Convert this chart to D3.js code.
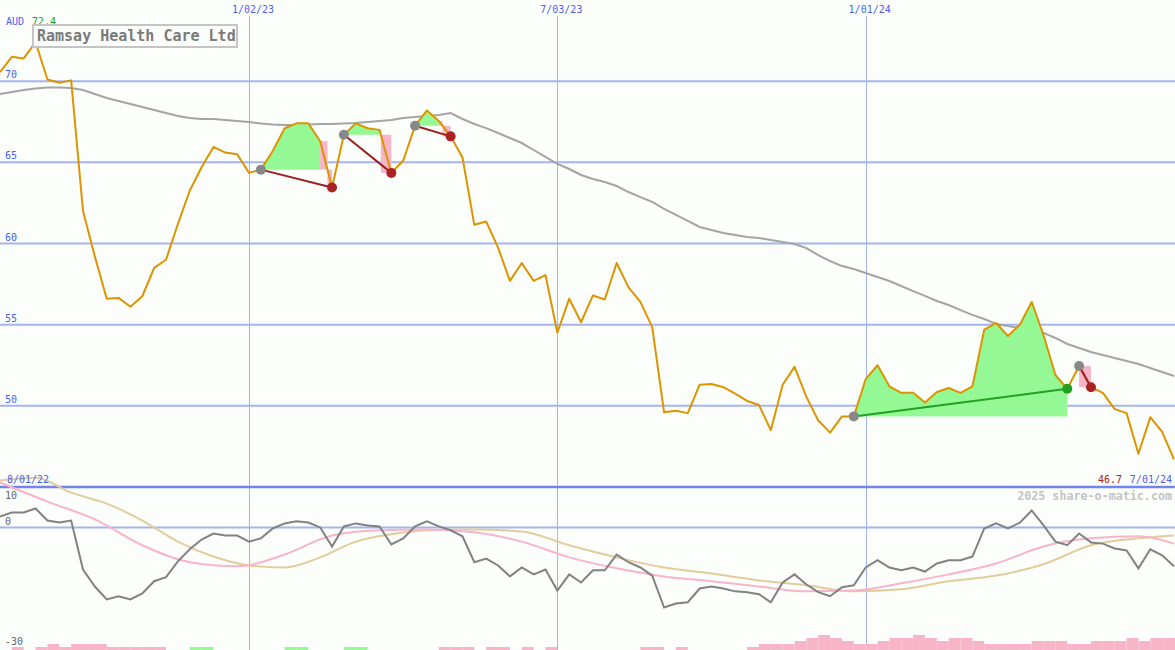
<!DOCTYPE html>
<html><head><meta charset="utf-8">
<script src="https://cdn.jsdelivr.net/npm/d3@7"></script>
<style>
html,body{margin:0;padding:0;background:#fbfefb;}
svg{display:block;}
text{font-family:"DejaVu Sans Mono",monospace;}
</style></head>
<body>
<svg id="chart" width="1175" height="650"></svg>
<script>
// ---------- DATA ----------
const title = "Ramsay Health Care Ltd";
const currency = "AUD";
const startLabel = "8/01/22";
const endLabel = "7/01/24";
const tickIndex = [21, 47, 73];
const tickLabels = ["1/02/23", "7/03/23", "1/01/24"];
const priceTicks = [50, 55, 60, 65, 70];
const oscTicks = [10, 0, -30];

// weekly closing price (AUD), 100 weeks
const price = [70.55,71.5,71.4,72.4,70.1,69.9,70.05,62.0,59.2,56.6,
56.65,56.1,56.75,58.5,59.0,61.2,63.25,64.7,65.95,65.6,
65.5,64.35,64.55,65.7,67.1,67.4,67.4,66.3,63.45,66.7,
67.4,67.1,67.0,64.35,65.1,67.25,68.2,67.55,66.6,65.3,
61.15,61.35,59.75,57.7,58.8,57.7,58.05,54.5,56.6,55.15,
56.8,56.55,58.8,57.3,56.4,54.85,49.6,49.7,49.55,51.3,
51.35,51.15,50.75,50.3,50.05,48.5,51.3,52.4,50.55,49.1,
48.35,49.35,49.35,51.65,52.5,51.2,50.8,50.8,50.2,50.85,
51.1,50.8,51.2,54.7,55.1,54.3,55.0,56.4,54.35,51.9,
51.05,52.45,51.15,50.8,49.8,49.55,47.05,49.3,48.4,46.7];

// long moving average
const movingAvg = [69.21,69.33,69.46,69.55,69.61,69.61,69.58,69.46,69.21,68.96,
68.78,68.59,68.41,68.22,68.04,67.85,67.73,67.67,67.67,67.61,
67.55,67.48,67.39,67.33,67.30,67.30,67.33,67.36,67.36,67.39,
67.42,67.48,67.55,67.61,67.73,67.79,67.85,67.92,68.04,67.67,
67.36,67.11,66.81,66.50,66.19,65.76,65.33,64.90,64.59,64.22,
63.97,63.79,63.54,63.17,62.86,62.56,62.13,61.76,61.39,61.02,
60.83,60.65,60.52,60.40,60.34,60.22,60.09,59.97,59.72,59.29,
58.92,58.61,58.43,58.18,57.94,57.69,57.38,57.07,56.77,56.46,
56.21,55.90,55.60,55.35,55.04,54.92,54.79,54.67,54.49,54.18,
53.81,53.56,53.32,53.13,52.95,52.76,52.58,52.33,52.08,51.84];

// oscillator (lower panel)
const oscillator = [2.7,3.7,3.7,4.7,1.7,1.2,1.7,-10.4,-14.6,-17.8,
-17.0,-17.8,-16.3,-13.3,-12.3,-8.4,-5.4,-3.0,-1.5,-2.0,
-2.0,-3.5,-2.7,-0.25,1.0,1.5,1.2,0,-4.7,0.25,
1.0,0.5,0.25,-4.2,-2.7,0.25,1.5,0.25,-0.7,-2.2,
-8.6,-7.7,-9.4,-12.1,-9.9,-11.6,-10.4,-15.6,-11.6,-13.6,
-10.6,-10.6,-6.7,-8.6,-9.9,-11.9,-19.8,-18.8,-18.5,-15.1,
-14.6,-15.1,-15.8,-16.0,-16.5,-18.5,-13.6,-11.6,-14.1,-16.0,
-17.0,-14.8,-14.3,-9.9,-8.1,-9.9,-10.6,-9.9,-10.9,-8.9,
-8.1,-8.1,-7.2,-0.25,1.0,-0.25,1.2,4.2,0.5,-3.5,
-4.4,-1.5,-3.7,-4.0,-5.2,-5.7,-10.1,-5.4,-6.9,-9.6];

const fastIdx = [0,4,8,12,16,20,24,28,32,36,40,44,48,52,56,60,64,68,72,76,80,84,88,92,96,99];
const fastSignal = [11.1,6.4,2.0,-4.4,-8.6,-9.6,-6.7,-2.0,-0.7,-0.5,-1.2,-3.5,-7.4,-10.1,-12.1,-13.3,-14.6,-15.8,-15.6,-13.8,-11.6,-8.9,-4.7,-2.7,-2.2,-4.0];
const slowIdx = [0,3,6,9,12,15,18,21,24,27,30,33,36,40,44,48,52,56,60,64,68,72,76,80,84,88,92,96,99];
const slowSignal = [11.6,12.3,8.6,5.9,1.7,-3.5,-7.2,-9.4,-9.9,-7.4,-3.5,-1.7,-0.7,-0.5,-1.0,-4.4,-7.4,-9.9,-11.4,-13.1,-14.3,-15.8,-15.3,-13.3,-11.9,-9.1,-4.4,-2.7,-2.0];

// bottom histogram levels
const barLevel = [0,1,0,1,2,1,2,2,2,1,
1,1,1,1,0,0,1,1,0,0,
0,0,0,0,1,1,0,0,0,1,
1,0,0,0,0,0,0,1,1,1,
0,1,1,0,1,0,1,0,0,0,
0,0,0,0,1,1,0,1,0,0,
0,0,0,1,2,2,2,3,4,5,
4,3,2,2,3,4,4,5,4,3,
4,4,3,2,2,2,2,3,3,3,
2,2,3,3,3,4,3,4,4,4];
const greenBarIdx = [16,17,24,25,29,30];

// trades (entry / exit week index)
const tradeEntry = [22, 29, 35, 72, 91];
const tradeExit  = [28, 33, 38, 90, 92];

// ---------- CHART ----------
const W = 1175, H = 650;
const svg = d3.select("#chart");
const x = d3.scaleLinear().domain([0, 99]).range([0, 1174]);
const yP = d3.scaleLinear().domain([45, 75]).range([487, 0]);
const yO = d3.scaleLinear().domain([-30.3, 10]).range([650, 487]);
const yB = d3.scaleLinear().domain([0, 5]).range([650, 635]);

const gridCol = "#a6b3f2", blueText = "#4d5ff0";

svg.append("rect").attr("width", W).attr("height", H).attr("fill", "#fbfefb");

// horizontal price grid
svg.append("g").selectAll("line").data(priceTicks).join("line")
  .attr("x1", 0).attr("x2", W).attr("y1", d => yP(d)).attr("y2", d => yP(d))
  .attr("stroke", gridCol).attr("stroke-width", 2);
// vertical date grid
svg.append("g").selectAll("line").data(tickIndex).join("line")
  .attr("x1", d => Math.round(x(d)) + 0.5).attr("x2", d => Math.round(x(d)) + 0.5)
  .attr("y1", 16).attr("y2", H)
  .attr("stroke", gridCol).attr("stroke-width", 1);
// oscillator zero line
svg.append("line").attr("x1", 0).attr("x2", W).attr("y1", yO(0)).attr("y2", yO(0))
  .attr("stroke", gridCol).attr("stroke-width", 2);
// separator
svg.append("line").attr("x1", 0).attr("x2", W).attr("y1", 487).attr("y2", 487)
  .attr("stroke", "#7384ea").attr("stroke-width", 2.5);

// histogram bars
const idx = d3.range(price.length);
svg.append("g").selectAll("rect").data(idx.filter(i => barLevel[i] > 0)).join("rect")
  .attr("x", i => x(i)).attr("width", i => x(i + 1) - x(i))
  .attr("y", i => yB(barLevel[i])).attr("height", i => yB(0) - yB(barLevel[i]))
  .attr("fill", i => greenBarIdx.includes(i) ? "#98f898" : "#f8b4c8");

// lower panel lines
const lineIdx = (arrIdx, arrVal, ys) => d3.line().x((d, k) => x(arrIdx[k])).y((d, k) => ys(arrVal[k])).curve(d3.curveMonotoneX)(arrVal);
svg.append("path").attr("d", lineIdx(slowIdx, slowSignal, yO))
  .attr("fill", "none").attr("stroke", "#e3cc9c").attr("stroke-width", 2);
svg.append("path").attr("d", lineIdx(fastIdx, fastSignal, yO))
  .attr("fill", "none").attr("stroke", "#f8b4c8").attr("stroke-width", 2);
svg.append("path").attr("d", d3.line().x((d, i) => x(i)).y(d => yO(d))(oscillator))
  .attr("fill", "none").attr("stroke", "#828282").attr("stroke-width", 2);

// moving average
svg.append("path").attr("d", d3.line().x((d, i) => x(i)).y(d => yP(d))(movingAvg))
  .attr("fill", "none").attr("stroke", "#a4a4a4").attr("stroke-width", 2);

// trade fills
const gFill = svg.append("g");
tradeEntry.forEach((e, t) => {
  const xEnd = tradeExit[t];
  const win = price[xEnd] > price[e];
  const lastGreen = win ? xEnd : xEnd - 1;
  if (lastGreen > e) {
    const pts = [[x(e), yP(price[e])]];
    for (let i = e; i <= lastGreen; i++) pts.push([x(i), yP(Math.max(price[i], price[e]))]);
    pts.push([x(lastGreen), yP(price[e])]);
    gFill.append("path").attr("d", d3.line()(pts) + "Z").attr("fill", "#94f894");
  }
  if (!win) {
    const p0 = price[xEnd - 1], p1 = price[xEnd], pe = price[e];
    let xc = x(xEnd - 1);
    if (p0 > pe) {
      xc = x(xEnd - 1) + (p0 - pe) / (p0 - p1) * (x(xEnd) - x(xEnd - 1));
      gFill.append("rect").attr("x", x(xEnd - 1)).attr("width", xc - x(xEnd - 1))
        .attr("y", yP(p0)).attr("height", yP(pe) - yP(p0)).attr("fill", "#f8b4c8");
    }
    gFill.append("rect").attr("x", xc).attr("width", x(xEnd) - xc)
      .attr("y", yP(pe)).attr("height", yP(p1) - yP(pe)).attr("fill", "#f8b4c8");
  }
});

// price line
svg.append("path").attr("d", d3.line().x((d, i) => x(i)).y(d => yP(d))(price))
  .attr("fill", "none").attr("stroke", "#dc9400").attr("stroke-width", 2).attr("stroke-linejoin", "round");

// trade lines & dots
const gT = svg.append("g");
tradeEntry.forEach((e, t) => {
  const xEnd = tradeExit[t];
  const win = price[xEnd] > price[e];
  gT.append("line").attr("x1", x(e)).attr("y1", yP(price[e])).attr("x2", x(xEnd)).attr("y2", yP(price[xEnd]))
    .attr("stroke", win ? "#22a022" : "#9a2020").attr("stroke-width", 2);
  gT.append("circle").attr("cx", x(e)).attr("cy", yP(price[e])).attr("r", 5).attr("fill", "#888888");
  gT.append("circle").attr("cx", x(xEnd)).attr("cy", yP(price[xEnd])).attr("r", 5)
    .attr("fill", win ? "#22a022" : "#aa2222");
});

// texts
const T = (s, xx, yy, col, size, anchor, weight) => svg.append("text").text(s)
  .attr("x", xx).attr("y", yy).attr("fill", col).attr("font-size", size)
  .attr("text-anchor", anchor || "start").attr("font-weight", weight || "normal");

priceTicks.forEach(v => T(String(v), 5, yP(v) - 3, blueText, 10));
tickIndex.forEach((ti, k) => T(tickLabels[k], x(ti) + 4, 13, blueText, 10, "middle"));
T(currency, 6, 25, blueText, 10);
T(d3.max(price).toFixed(1), 32, 25, "#22a022", 10);
svg.append("rect").attr("x", 33).attr("y", 25).attr("width", 204).attr("height", 22)
  .attr("fill", "#fbfefb").attr("stroke", "#c4c4c4").attr("stroke-width", 2);
T(title, 37, 41, "#7a7a7a", 15, "start", "bold");
T(startLabel, 7, 483, blueText, 10);
T(price[price.length - 1].toFixed(1), 1122, 483, "#a82020", 10, "end");
T(endLabel, 1172, 483, blueText, 10, "end");
T("2025 share-o-matic.com", 1172, 500, "#c4c4c4", 11.7, "end", "bold");
T(String(oscTicks[0]), 5, 499, "#666", 10);
T(String(oscTicks[1]), 5, 525, "#666", 10);
T(String(oscTicks[2]), 5, 645, "#666", 10);
</script>
</body></html>
